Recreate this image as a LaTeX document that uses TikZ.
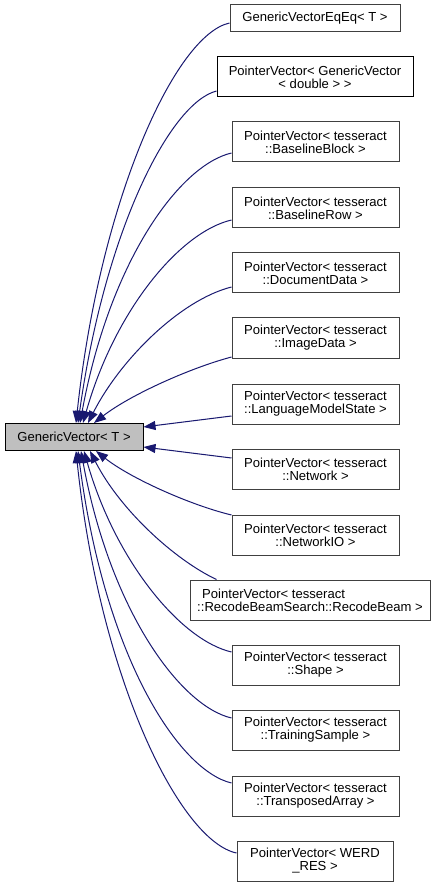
\documentclass[tikz,border=0pt]{standalone}
\usepackage{fontspec}
\setmainfont{Liberation Sans}
\usetikzlibrary{arrows.meta,calc}
\definecolor{edgeblue}{HTML}{191970}
\definecolor{boxgray}{HTML}{BFBFBF}
\definecolor{bordergray}{HTML}{404040}
\begin{document}
\begin{tikzpicture}[x=0.75pt,y=-0.75pt,
  box/.style={draw=bordergray,line width=0.75pt,fill=white,inner sep=0pt,align=center,
    font=\fontsize{9.8}{9.75}\selectfont,minimum height=30pt,minimum width=125.25pt},
  onebox/.style={box,minimum height=20.25pt},
  edge/.style={draw=edgeblue,line width=0.75pt,-{Triangle[length=9pt,width=6.75pt]}}]
\useasboundingbox (0,0) rectangle (445,887);
% main node
\node[onebox,fill=boxgray,draw=black,minimum width=103.5pt] (gv) at (74,437) {GenericVector< T >};
% derived classes
\node[onebox,minimum width=127.5pt] (eqeq) at (315,18.5) {GenericVectorEqEq< T >};
\node[box,draw=black,minimum width=147pt] (pvgv) at (315,77) {PointerVector< GenericVector\\< double > >};
\node[box] (bb) at (315.5,142) {PointerVector< tesseract\\::BaselineBlock >};
\node[box] (br) at (315.5,208) {PointerVector< tesseract\\::BaselineRow >};
\node[box] (dd) at (315.5,273) {PointerVector< tesseract\\::DocumentData >};
\node[box] (id) at (315.5,338) {PointerVector< tesseract\\::ImageData >};
\node[box] (lms) at (315.5,404) {PointerVector< tesseract\\::LanguageModelState >};
\node[box] (net) at (315.5,469) {PointerVector< tesseract\\::Network >};
\node[box] (nio) at (315.5,535) {PointerVector< tesseract\\::NetworkIO >};
\node[box,minimum width=180pt,align=left] (rb) at (310,600) {\hspace*{3.75pt}PointerVector< tesseract\\::RecodeBeamSearch::RecodeBeam >};
\node[box] (sh) at (315.5,665) {PointerVector< tesseract\\::Shape >};
\node[box] (ts) at (315.5,730) {PointerVector< tesseract\\::TrainingSample >};
\node[box] (ta) at (315.5,796) {PointerVector< tesseract\\::TransposedArray >};
\node[box,minimum width=117pt] (wr) at (315,861) {PointerVector< WERD\\\_RES >};
% edges to top of main node
\draw[edge] ($(eqeq.west)+(0,4.5)$) .. controls (175,35) and (100,200) .. ($(gv.north)+(2,0)$);
\draw[edge] ($(pvgv.west)+(0,14)$) .. controls (170,103) and (105,230) .. ($(gv.north)+(4,0)$);
\draw[edge] ($(bb.west)+(0,11)$) .. controls (180,165) and (110,260) .. ($(gv.north)+(6,0)$);
\draw[edge] ($(br.west)+(0,12)$) .. controls (180,232) and (115,310) .. ($(gv.north)+(9,0)$);
\draw[edge] ($(dd.west)+(0,14)$) .. controls (180,300) and (120,360) .. ($(gv.north)+(14,0)$);
\draw[edge] ($(id.west)+(0,19)$) .. controls (190,368) and (130,395) .. ($(gv.north)+(20,0)$);
% edges to right side
\draw[edge] ($(lms.west)+(0,12)$) -- ($(gv.east)+(0,-10)$);
\draw[edge] ($(net.west)+(0,-11)$) -- ($(gv.east)+(0,10)$);
% edges to bottom of main node
\draw[edge] ($(nio.west)+(0,-20)$) .. controls (190,505) and (130,478) .. ($(gv.south)+(22,0)$);
\draw[edge] ($(rb.north west)+(27,0)$) .. controls (175,560) and (120,510) .. ($(gv.south)+(16,0)$);
\draw[edge] ($(sh.west)+(0,-13)$) .. controls (180,640) and (115,560) .. ($(gv.south)+(10,0)$);
\draw[edge] ($(ts.west)+(0,-12)$) .. controls (180,706) and (110,610) .. ($(gv.south)+(7,0)$);
\draw[edge] ($(ta.west)+(0,-13)$) .. controls (180,771) and (105,660) .. ($(gv.south)+(4,0)$);
\draw[edge] ($(wr.west)+(0,-8)$) .. controls (180,841) and (100,680) .. ($(gv.south)+(2,0)$);
\end{tikzpicture}
\end{document}
